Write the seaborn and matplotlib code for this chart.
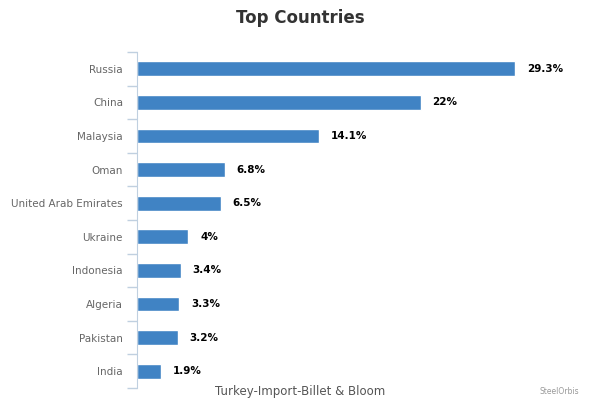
import matplotlib
matplotlib.use("Agg")
import matplotlib.pyplot as plt
import seaborn as sns
import pandas as pd

countries = ["Russia", "China", "Malaysia", "Oman", "United Arab Emirates",
             "Ukraine", "Indonesia", "Algeria", "Pakistan", "India"]
shares = [29.3, 22, 14.1, 6.8, 6.5, 4, 3.4, 3.3, 3.2, 1.9]
value_labels = ["29.3%", "22%", "14.1%", "6.8%", "6.5%", "4%", "3.4%", "3.3%", "3.2%", "1.9%"]

df = pd.DataFrame({"country": countries, "share": shares})

sns.set_style("white")
plt.rcParams["font.family"] = ["DejaVu Sans"]

fig = plt.figure(figsize=(6, 4), dpi=100)
ax = fig.add_axes([0.228, 0.03, 0.747, 0.84])

sns.barplot(data=df, x="share", y="country", color="#4083c4", saturation=1,
            width=0.44, ax=ax, orient="h")

for i, (v, lab) in enumerate(zip(shares, value_labels)):
    ax.text(v + 0.9, i, lab, va="center", ha="left", fontsize=7.5,
            fontweight="bold", color="#000000")

ax.set_xlim(0, 34.7)
ax.set_ylim(9.5, -0.5)
ax.set_xticks([])
ax.set_xlabel("")
ax.set_ylabel("")
ax.set_yticks(range(len(countries)))
ax.set_yticklabels(countries, fontsize=7.5, color="#666666")
ax.tick_params(axis="y", which="major", left=False, length=0, pad=10)
# category boundary ticks
ax.set_yticks([i - 0.5 for i in range(len(countries) + 1)], minor=True)
ax.tick_params(axis="y", which="minor", left=True, length=7, color="#c0d0e0", width=1)

for s in ["top", "right", "bottom"]:
    ax.spines[s].set_visible(False)
ax.spines["left"].set_color("#c0d0e0")

fig.text(0.5, 0.955, "Top Countries", ha="center", va="center",
         fontsize=12, fontweight="bold", color="#333333")
fig.text(0.5, 0.02, "Turkey-Import-Billet & Bloom", ha="center", va="center",
         fontsize=8.5, color="#555555")
fig.text(0.965, 0.02, "SteelOrbis", ha="right", va="center",
         fontsize=5.5, color="#999999")

fig.savefig("out.png", dpi=100, facecolor="white")
